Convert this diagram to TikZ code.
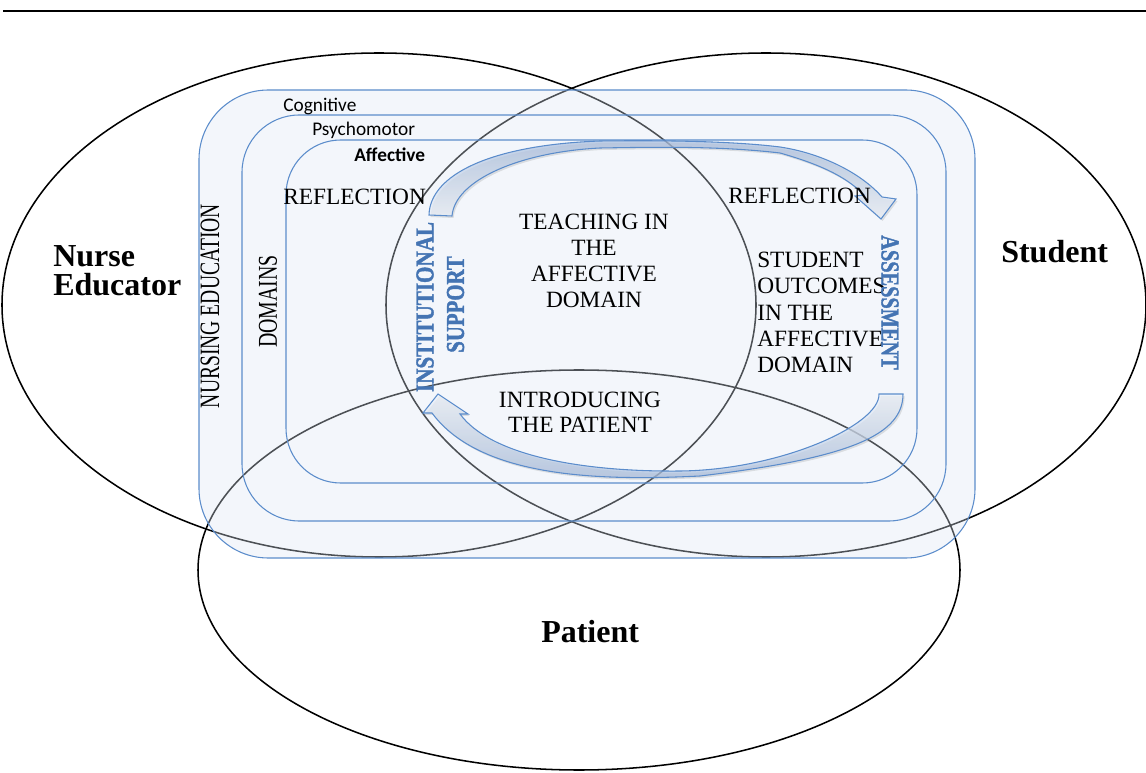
\documentclass[tikz,border=0pt]{standalone}
\usepackage{fontspec}
\setmainfont{Liberation Serif}
\newfontfamily\calfont{Carlito}
\newfontfamily\heavyserif{Liberation Serif}[BoldFeatures={FakeBold=1.6}]
\usetikzlibrary{shadows}
\definecolor{frameblue}{HTML}{5B8CCB}
\definecolor{panelfill}{HTML}{DCE6F4}
\definecolor{labelblue}{HTML}{4474B3}
\definecolor{arrowdark}{HTML}{A6BCDD}
\definecolor{arrowlight}{HTML}{EEF3FA}

\begin{document}
\begin{tikzpicture}[x=0.75pt,y=-0.75pt,
  venn/.style={draw=black, line width=1.15pt},
  domainbox/.style={draw=frameblue, line width=0.8pt},
  bodytext/.style={font=\fontsize{17.5}{19.5}\selectfont, inner sep=0pt},
  ringlabel/.style={font=\calfont\fontsize{14.5}{16}\selectfont, inner sep=0pt, anchor=base west},
  partylabel/.style={font=\bfseries\fontsize{24}{21.75}\selectfont, inner sep=0pt},
  sidelabel/.style={inner sep=0pt, rotate=90},
  bluelabel/.style={inner sep=0pt, text=labelblue},
  flowarrow/.style={draw=frameblue, line width=0.8pt, fill opacity=0.7,
    drop shadow={opacity=0.22, shadow xshift=1.2pt, shadow yshift=-1.5pt}},
]
\useasboundingbox (0,0) rectangle (1146,773);

% header rule
\coordinate (ruleL) at (3,11);
\coordinate (ruleR) at (1146,11);
\draw[line width=1.1pt] (ruleL) -- (ruleR);

% the three parties
\draw[venn] (379,305) ellipse [x radius=282.75pt, y radius=189pt];
\draw[venn] (766,305) ellipse [x radius=285pt, y radius=189pt];
\draw[venn] (579,570) ellipse [x radius=285.75pt, y radius=150pt];

% nested domain frames
\draw[domainbox, fill=panelfill, fill opacity=0.35, rounded corners=52pt] (199,90) rectangle (975,558);
\draw[domainbox, rounded corners=43pt] (242,115) rectangle (946,521);
\draw[domainbox, rounded corners=41pt] (286,140) rectangle (917,483);

% upper curved arrow: reflection towards assessment
\path[flowarrow, top color=arrowdark, bottom color=arrowlight]
  (429,215) .. controls (430,175) and (490,145) .. (600,141)
  .. controls (680,140) and (740,142) .. (780,147)
  .. controls (820,153) and (860,172) .. (882,197)
  -- (896,199) -- (881,219) -- (855,196) -- (864,195)
  .. controls (845,175) and (815,163) .. (780,153)
  .. controls (720,146) and (660,147) .. (600,148)
  .. controls (520,152) and (455,180) .. (452,216) -- cycle;

% lower curved arrow: back towards institutional support
\path[flowarrow, top color=arrowlight, bottom color=arrowdark]
  (879,394) -- (903,394)
  .. controls (903,435) and (850,458) .. (700,476)
  .. controls (600,481) and (480,478) .. (432,413)
  -- (423,413) -- (438,394) -- (468,414) -- (460,414)
  .. controls (490,455) and (580,472) .. (680,471)
  .. controls (780,470) and (880,425) .. (879,394) -- cycle;

% domain names
\node[ringlabel] (cognitive) at (283,112) {Cognitive};
\node[ringlabel] (psychomotor) at (312,136) {Psychomotor};
\node[ringlabel, font=\calfont\bfseries\fontsize{14.5}{16}\selectfont] (affective) at (354,162) {Affective};

% frame labels
\node[sidelabel] (nursing) at (210,306)
  {\scalebox{0.7}[1]{\fontsize{21}{21}\selectfont NURSING EDUCATION}};
\node[sidelabel] (domains) at (268,301.5)
  {\scalebox{0.73}[1]{\fontsize{20.4}{20.4}\selectfont DOMAINS}};

% parties
\node[partylabel, anchor=north west, align=left] (educator) at (53,245) {Nurse\\Educator};
\node[partylabel, anchor=base west] (student) at (1001,263) {Student};
\node[partylabel, anchor=base west] (patient) at (541,642) {Patient};

% content of the affective domain
\node[bodytext, anchor=base west] (reflectL) at (283,205) {REFLECTION};
\node[bodytext, anchor=base west] (reflectR) at (728,204) {REFLECTION};
\node[bodytext, anchor=north, align=center] (teaching) at (594,213.5)
  {TEACHING IN\\THE\\AFFECTIVE\\DOMAIN};
\node[bodytext, anchor=north west, align=left, font=\fontsize{17.5}{19.65}\selectfont] (outcomes) at (757,252)
  {STUDENT\\OUTCOMES\\IN THE\\AFFECTIVE\\DOMAIN};
\node[bodytext, anchor=north, align=center, font=\fontsize{17.5}{18.9}\selectfont] (introducing) at (580,392)
  {INTRODUCING\\THE PATIENT};

% supporting structures
\node[bluelabel, rotate=90] (institutional) at (425,307)
  {\scalebox{0.82}[1]{\heavyserif\bfseries\fontsize{19.3}{19.3}\selectfont INSTITUTIONAL}};
\node[bluelabel, rotate=90] (support) at (455.5,304.5)
  {\scalebox{0.81}[1]{\heavyserif\bfseries\fontsize{19.3}{19.3}\selectfont SUPPORT}};
\node[bluelabel, rotate=-90] (assessment) at (890,302.5)
  {\scalebox{0.79}[1]{\heavyserif\bfseries\fontsize{19.3}{19.3}\selectfont ASSESSMENT}};
\end{tikzpicture}
\end{document}
